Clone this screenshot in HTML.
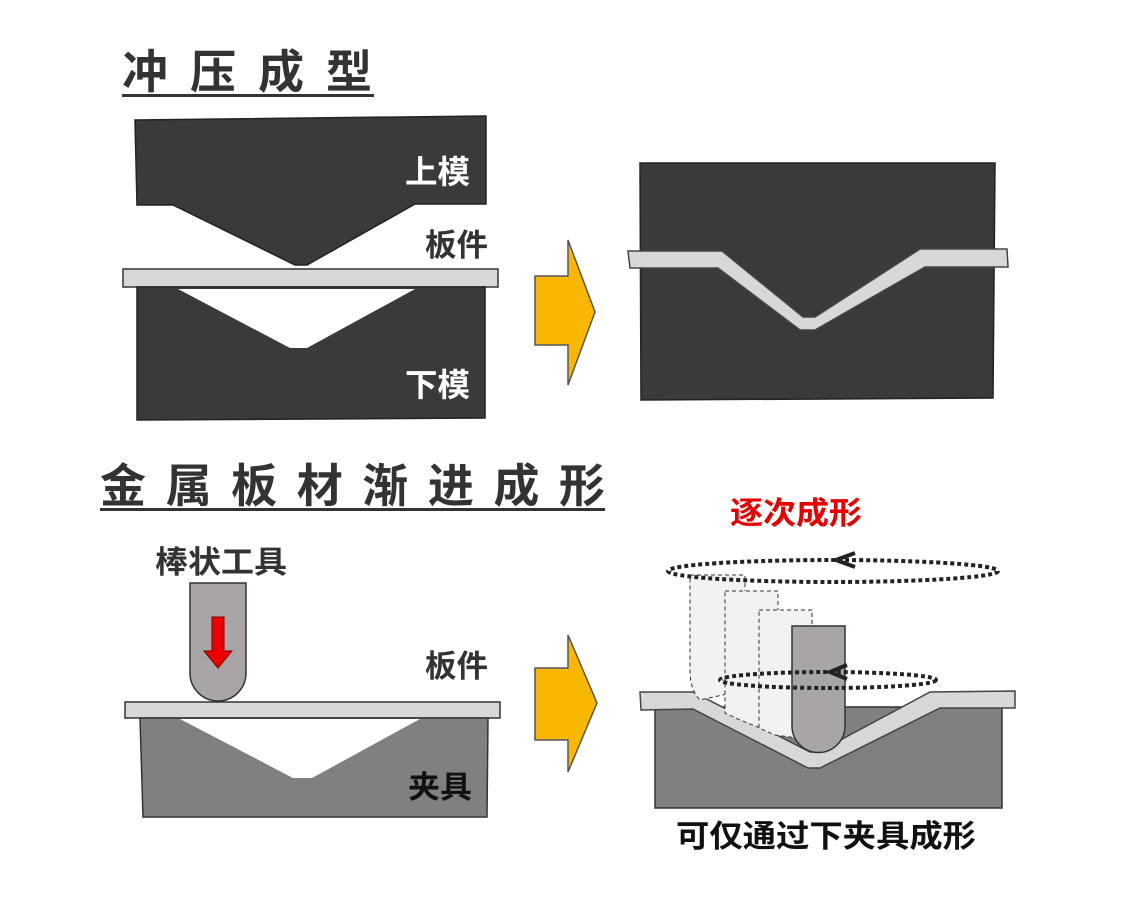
<!DOCTYPE html>
<html><head><meta charset="utf-8"><style>
html,body{margin:0;padding:0;background:#fff;width:1146px;height:897px;overflow:hidden}
svg{display:block}
text{font-family:"Liberation Sans","Noto Sans CJK SC",sans-serif;font-weight:bold}
</style></head><body>
<svg width="1146" height="897" viewBox="0 0 1146 897">
<!-- Titles -->
<text x="122" y="88" font-size="46" fill="#333" textLength="250" lengthAdjust="spacing">冲压成型</text>
<rect x="122" y="94" width="252" height="3" fill="#333"/>
<text x="100" y="502" font-size="46" fill="#333" textLength="505" lengthAdjust="spacing">金属板材渐进成形</text>
<rect x="100" y="508" width="505" height="3" fill="#333"/>

<!-- Top left press -->
<polygon points="135,120 486,116 486,204 415,204 307,265 295,265 173,205 137,205" fill="#3a3a3a" stroke="#222" stroke-width="1.5"/>
<rect x="123" y="269" width="375" height="18" fill="#d8d8d8" stroke="#333" stroke-width="1.5"/>
<polygon points="137,287 485,287 485,418 137,420" fill="#3a3a3a" stroke="#222" stroke-width="1.5"/>
<polygon points="178,289 415,289 307,348 290,348" fill="#fff"/>
<text x="405" y="183" font-size="32" fill="#fff" textLength="65" lengthAdjust="spacingAndGlyphs">上模</text>
<text x="425" y="256" font-size="31" fill="#333" textLength="63" lengthAdjust="spacingAndGlyphs">板件</text>
<text x="405" y="396" font-size="32" fill="#fff" textLength="65" lengthAdjust="spacingAndGlyphs">下模</text>

<!-- Arrows -->
<polygon points="535,276 568,276 568,240 595,312 568,385 568,345 535,345" fill="#f8b800" stroke="#555" stroke-width="1.5"/>
<polygon points="535,668 568,668 568,635 597,703 568,772 568,740 535,740" fill="#f8b800" stroke="#555" stroke-width="1.5"/>

<!-- Top right -->
<polygon points="640,163 995,163 993,398 641,400" fill="#3a3a3a" stroke="#222" stroke-width="1.5"/>
<polygon points="628,251 722,251 803,317 815,317 920,249 1007,249 1008,267 925,267 815,330 800,330 718,268 630,268" fill="#d8d8d8" stroke="#444" stroke-width="1.5"/>

<!-- Bottom left -->
<text x="155" y="573" font-size="31" fill="#333" textLength="132" lengthAdjust="spacingAndGlyphs">棒状工具</text>
<path d="M190,583 H246 V673 A28,28 0 0 1 190,673 Z" fill="#a9a5a6" stroke="#333" stroke-width="1.5"/>
<polygon points="212,617 224,617 224,651 232,651 218,668 204,651 212,651" fill="#e00" stroke="#700" stroke-width="1"/>
<rect x="125" y="702" width="375" height="16" fill="#d8d8d8" stroke="#333" stroke-width="1.5"/>
<polygon points="140,718 488,718 487,817 143,817" fill="#808080" stroke="#333" stroke-width="1.5"/>
<polygon points="180,719 420,719 312,778 293,778" fill="#fff"/>
<text x="425" y="677" font-size="31" fill="#333" textLength="63" lengthAdjust="spacingAndGlyphs">板件</text>
<text x="408" y="798" font-size="31" fill="#111" textLength="64" lengthAdjust="spacingAndGlyphs">夹具</text>

<!-- Bottom right -->
<text x="730" y="524" font-size="31" fill="#e60000" textLength="132" lengthAdjust="spacingAndGlyphs">逐次成形</text>
<rect x="655" y="707" width="347" height="101" fill="#808080" stroke="#333" stroke-width="1.5"/>
<polygon points="640,692 693,692 810,752 818,752 930,692 1015,691 1015,708 940,708 820,768 808,768 693,709 641,710" fill="#d8d8d8" stroke="#444" stroke-width="1.5"/>
<!-- ghost tools -->
<path d="M690,575 H745 V690 L700,700 Q690,690 690,670 Z" fill="#f2f2f2" stroke="#333" stroke-width="1" stroke-dasharray="4,3"/>
<path d="M725,591 H778 V735 L740,720 L725,713 Z" fill="#f2f2f2" stroke="#333" stroke-width="1" stroke-dasharray="4,3"/>
<path d="M759,610 H812 V740 L775,735 L759,728 Z" fill="#f2f2f2" stroke="#333" stroke-width="1" stroke-dasharray="4,3"/>
<!-- ellipses -->
<ellipse cx="833" cy="571" rx="165" ry="11" fill="none" stroke="#222" stroke-width="4" stroke-dasharray="4,3"/>
<path d="M855,553 L836,560 L855,567" fill="none" stroke="#222" stroke-width="4"/>
<path d="M792,626 H845 V726 A26.5,26.5 0 0 1 792,726 Z" fill="#a9a5a6" stroke="#333" stroke-width="1.5"/>
<ellipse cx="828" cy="680" rx="108" ry="8" fill="none" stroke="#222" stroke-width="4" stroke-dasharray="4,3"/>
<path d="M847,665 L830,672 L847,679" fill="none" stroke="#222" stroke-width="4"/>
<text x="676" y="847" font-size="31" fill="#111" textLength="300" lengthAdjust="spacingAndGlyphs">可仅通过下夹具成形</text>
</svg>
</body></html>
